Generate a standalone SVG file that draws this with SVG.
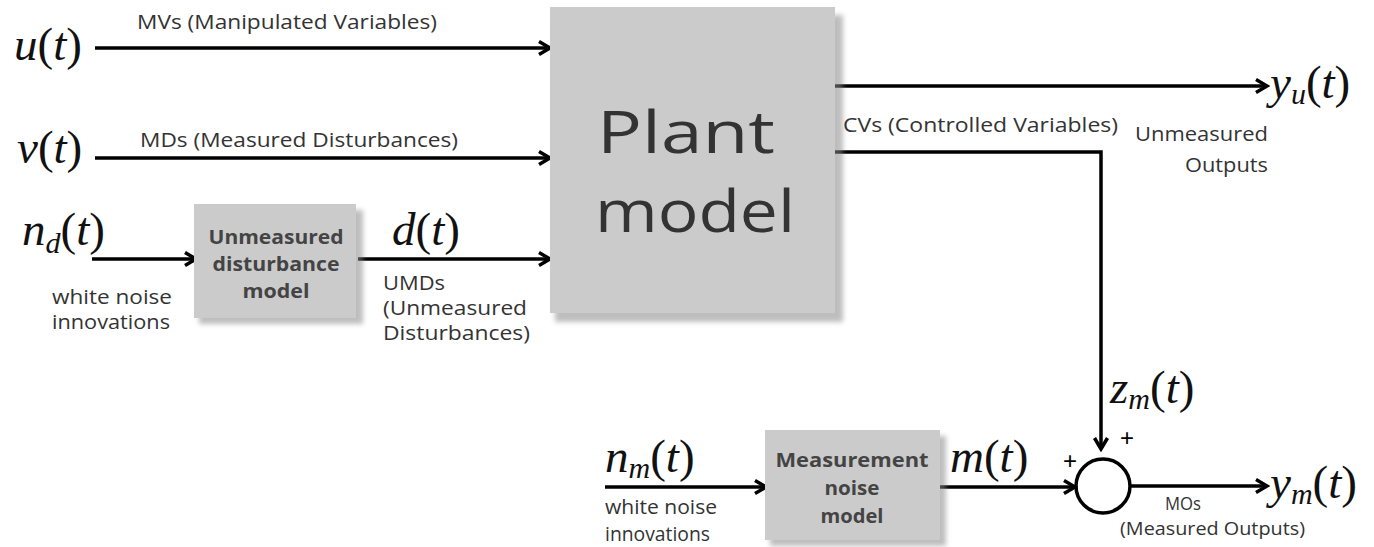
<svg xmlns="http://www.w3.org/2000/svg" width="1374" height="547" viewBox="0 0 1374 547">
<style>
.lbl{font-family:"Open Sans","Liberation Sans",sans-serif;font-size:20px;fill:#333}
.sm{font-size:18px}
.bx{font-family:"Open Sans","Liberation Sans",sans-serif;font-size:19px;font-weight:bold;fill:#444;text-anchor:middle}
.math{font-family:"Liberation Serif","DejaVu Serif",serif;font-size:47px;fill:#111}
.big{font-family:"Open Sans","Liberation Sans",sans-serif;font-size:58px;fill:#333;text-anchor:middle}
.it{font-style:italic}
.wire{stroke:#000;stroke-width:3.5;fill:none}
.box{fill:#cbcbcb}
.sh{fill:#888;opacity:0.55}
</style>
<defs>
<marker id="arr" markerUnits="userSpaceOnUse" markerWidth="18" markerHeight="18" viewBox="0 0 18 18" refX="15" refY="9" orient="auto">
<path d="M4,2.5 L15,9 L4,15.5" fill="none" stroke="#000" stroke-width="3.5" stroke-linejoin="miter"/>
</marker>
<filter id="blur" x="-10%" y="-10%" width="120%" height="120%"><feGaussianBlur stdDeviation="2.5"/></filter>
</defs>

<g id="connectors">
<path class="wire" d="M95,48 L550,48" marker-end="url(#arr)"/>
<path class="wire" d="M95,158 L550,158" marker-end="url(#arr)"/>
<path class="wire" d="M92,259 L196,259" marker-end="url(#arr)"/>
<path class="wire" d="M358,259 L550,259" marker-end="url(#arr)"/>
<path class="wire" d="M835,86 L1267,86" marker-end="url(#arr)"/>
<path class="wire" d="M835,152 L1101,152 L1101,449" marker-end="url(#arr)"/>
<path class="wire" d="M605,487 L766,487" marker-end="url(#arr)"/>
<path class="wire" d="M940,487 L1075,487" marker-end="url(#arr)"/>
<path class="wire" d="M1131,486 L1267,486" marker-end="url(#arr)"/>
</g>

<g id="plant">
<rect class="sh" x="555" y="15" width="288" height="307" filter="url(#blur)"/>
<rect class="box" x="550" y="7" width="285" height="306"/>
<text class="big" x="686" y="153" textLength="178" lengthAdjust="spacingAndGlyphs">Plant</text>
<text class="big" x="695" y="232" textLength="200" lengthAdjust="spacingAndGlyphs">model</text>
</g>

<g id="dist-model">
<rect class="sh" x="199" y="210" width="164" height="114" filter="url(#blur)"/>
<rect class="box" x="194" y="204" width="162" height="114"/>
<text class="bx" x="276" y="244" textLength="135" lengthAdjust="spacingAndGlyphs">Unmeasured</text>
<text class="bx" x="276" y="271" textLength="127" lengthAdjust="spacingAndGlyphs">disturbance</text>
<text class="bx" x="276" y="298" textLength="67" lengthAdjust="spacingAndGlyphs">model</text>
</g>

<g id="noise-model">
<rect class="sh" x="770" y="436" width="176" height="110" filter="url(#blur)"/>
<rect class="box" x="765" y="430" width="175" height="110"/>
<text class="bx" x="852" y="467" textLength="153" lengthAdjust="spacingAndGlyphs">Measurement</text>
<text class="bx" x="852" y="495" textLength="55" lengthAdjust="spacingAndGlyphs">noise</text>
<text class="bx" x="852" y="523" textLength="63" lengthAdjust="spacingAndGlyphs">model</text>
</g>

<g id="sum">
<circle cx="1103" cy="486" r="27" fill="none" stroke="#000" stroke-width="3.5"/>
<text x="1127" y="446" text-anchor="middle" style="font-family:'Liberation Sans',sans-serif;font-size:24px;fill:#000">+</text>
<text x="1070" y="469" text-anchor="middle" style="font-family:'Liberation Sans',sans-serif;font-size:24px;fill:#000">+</text>
</g>

<g id="labels">
<text class="math" x="14" y="60"><tspan class="it">u</tspan>(<tspan class="it">t</tspan>)</text>
<text class="lbl" x="137" y="29" textLength="300" lengthAdjust="spacingAndGlyphs">MVs (Manipulated Variables)</text>
<text class="math" x="17" y="163"><tspan class="it">v</tspan>(<tspan class="it">t</tspan>)</text>
<text class="lbl" x="140" y="147" textLength="318" lengthAdjust="spacingAndGlyphs">MDs (Measured Disturbances)</text>
<text class="math" x="22" y="245"><tspan class="it">n</tspan><tspan class="it" font-size="30" dy="8">d</tspan><tspan dy="-8">(</tspan><tspan class="it">t</tspan>)</text>
<text class="lbl" x="52" y="304" textLength="120" lengthAdjust="spacingAndGlyphs">white noise</text>
<text class="lbl" x="52" y="329" textLength="118" lengthAdjust="spacingAndGlyphs">innovations</text>
<text class="math" x="392" y="245"><tspan class="it">d</tspan>(<tspan class="it">t</tspan>)</text>
<text class="lbl" x="383" y="290" textLength="62" lengthAdjust="spacingAndGlyphs">UMDs</text>
<text class="lbl" x="383" y="315" textLength="144" lengthAdjust="spacingAndGlyphs">(Unmeasured</text>
<text class="lbl" x="383" y="340" textLength="147" lengthAdjust="spacingAndGlyphs">Disturbances)</text>
<text class="math" x="1270" y="98"><tspan class="it">y</tspan><tspan class="it" font-size="30" dy="6">u</tspan><tspan dy="-6">(</tspan><tspan class="it">t</tspan>)</text>
<text class="lbl" x="843" y="132" textLength="275" lengthAdjust="spacingAndGlyphs">CVs (Controlled Variables)</text>
<text class="lbl" x="1135" y="141" textLength="133" lengthAdjust="spacingAndGlyphs">Unmeasured</text>
<text class="lbl" x="1185" y="172" textLength="83" lengthAdjust="spacingAndGlyphs">Outputs</text>
<text class="math" x="1110" y="403"><tspan class="it">z</tspan><tspan class="it" font-size="30" dy="6">m</tspan><tspan dy="-6">(</tspan><tspan class="it">t</tspan>)</text>
<text class="math" x="605" y="472"><tspan class="it">n</tspan><tspan class="it" font-size="30" dy="6">m</tspan><tspan dy="-6">(</tspan><tspan class="it">t</tspan>)</text>
<text class="lbl" x="605" y="514" textLength="112" lengthAdjust="spacingAndGlyphs">white noise</text>
<text class="lbl" x="605" y="541" textLength="105" lengthAdjust="spacingAndGlyphs">innovations</text>
<text class="math" x="950" y="472"><tspan class="it">m</tspan>(<tspan class="it">t</tspan>)</text>
<text class="math" x="1270" y="498"><tspan class="it">y</tspan><tspan class="it" font-size="30" dy="6">m</tspan><tspan dy="-6">(</tspan><tspan class="it">t</tspan>)</text>
<text class="lbl sm" x="1183" y="510" text-anchor="middle" textLength="36" lengthAdjust="spacingAndGlyphs">MOs</text>
<text class="lbl sm" x="1120" y="535" textLength="185" lengthAdjust="spacingAndGlyphs">(Measured Outputs)</text>
</g>
</svg>
